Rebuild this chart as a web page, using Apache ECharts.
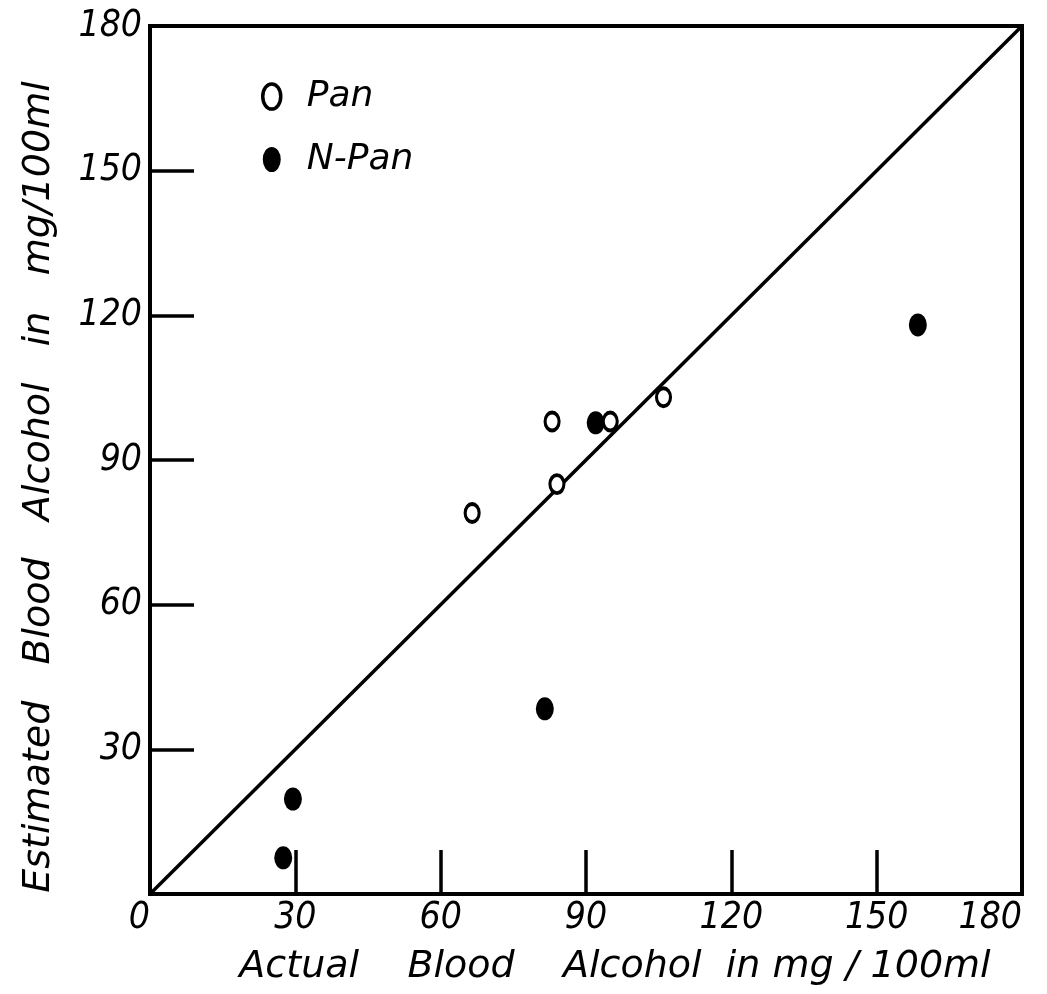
<!DOCTYPE html>
<html>
<head>
<meta charset="utf-8">
<script src="https://cdn.jsdelivr.net/npm/echarts@6/dist/echarts.min.js"></script>
<style>
  html, body { margin: 0; padding: 0; background: #fff; }
  #chart { width: 1047px; height: 994px; }
</style>
</head>
<body>
<div id="chart"></div>
<script>
// Blood alcohol: actual vs estimated (mg/100ml)
const axisTicks = [0, 30, 60, 90, 120, 150, 180];
const panActual = [66.5, 83, 84, 95, 106];
const panEstimated = [79, 98, 85, 98, 103];
const nPanActual = [27.5, 29.5, 81.5, 92, 158.5];
const nPanEstimated = [7.5, 19.7, 38.4, 97.7, 118];
const identityLine = [[0, 0], [180, 180]];

const NARROW = '"Liberation Sans Narrow", "DejaVu Sans Condensed", "Liberation Sans", sans-serif';
const WIDE = '"DejaVu Sans", sans-serif';
const pair = (xs, ys) => xs.map((x, i) => [x, ys[i]]);

// upright ellipse used as the legend marker
const ELLIPSE = 'path://M7.5,0A7.5,10.5,0,1,1,7.5,21A7.5,10.5,0,1,1,7.5,0Z';

const chart = echarts.init(document.getElementById('chart'), null, { renderer: 'canvas' });

const openStyle = { color: '#fff', borderColor: '#000', borderWidth: 3.5, opacity: 1 };
const filledStyle = { color: '#000', borderWidth: 0, opacity: 1 };

const axisCommon = {
  type: 'value',
  min: axisTicks[0],
  max: axisTicks[axisTicks.length - 1],
  interval: 30,
  splitLine: { show: false },
  axisLine: { show: true, lineStyle: { color: '#000', width: 4 } },
  axisTick: { show: true, inside: true, length: 44, lineStyle: { color: '#000', width: 3.5 } },
  axisLabel: {
    color: '#000', fontFamily: NARROW, fontStyle: 'italic', fontSize: 37
  }
};

chart.setOption({
  animation: false,
  backgroundColor: '#fff',
  grid: {
    left: 150, right: 25, top: 26, bottom: 100,
    outerBoundsMode: 'none', containLabel: false,
    show: true, borderColor: '#000', borderWidth: 4
  },
  legend: {
    data: [
      { name: 'Pan', icon: ELLIPSE, itemStyle: openStyle },
      { name: 'N-Pan', icon: ELLIPSE, itemStyle: filledStyle }
    ],
    orient: 'vertical',
    left: 261,
    top: 76,
    padding: 0,
    itemGap: 22,
    itemWidth: 18,
    itemHeight: 26,
    textStyle: { color: '#000', fontFamily: WIDE, fontStyle: 'italic', fontSize: 36, lineHeight: 41, padding: [0, 0, 0, 21] }
  },
  xAxis: Object.assign({}, axisCommon, {
    name: 'Actual    Blood    Alcohol  in mg / 100ml',
    nameLocation: 'middle',
    nameGap: 54,
    nameTextStyle: {
      color: '#000', fontFamily: WIDE, fontStyle: 'italic', fontSize: 38, padding: [0, 0, 0, 58]
    },
    axisLabel: Object.assign({}, axisCommon.axisLabel, {
      margin: 6, alignMinLabel: 'right', alignMaxLabel: 'right'
    })
  }),
  yAxis: Object.assign({}, axisCommon, {
    name: 'Estimated   Blood   Alcohol   in   mg/100ml',
    nameLocation: 'middle',
    nameGap: 92,
    nameTextStyle: {
      color: '#000', fontFamily: WIDE, fontStyle: 'italic', fontSize: 38, padding: [0, 54, 0, 0]
    },
    axisLabel: Object.assign({}, axisCommon.axisLabel, { margin: 8, showMinLabel: false })
  }),
  series: [
    {
      name: 'identity',
      type: 'line',
      data: identityLine,
      symbol: 'none',
      silent: true,
      lineStyle: { color: '#000', width: 3.5 },
      z: 1
    },
    {
      name: 'Pan',
      type: 'scatter',
      data: pair(panActual, panEstimated),
      symbol: 'circle',
      symbolSize: [14, 18],
      itemStyle: openStyle,
      z: 3
    },
    {
      name: 'N-Pan',
      type: 'scatter',
      data: pair(nPanActual, nPanEstimated),
      symbol: 'circle',
      symbolSize: [18, 23],
      itemStyle: filledStyle,
      z: 2
    }
  ]
});
</script>
</body>
</html>
